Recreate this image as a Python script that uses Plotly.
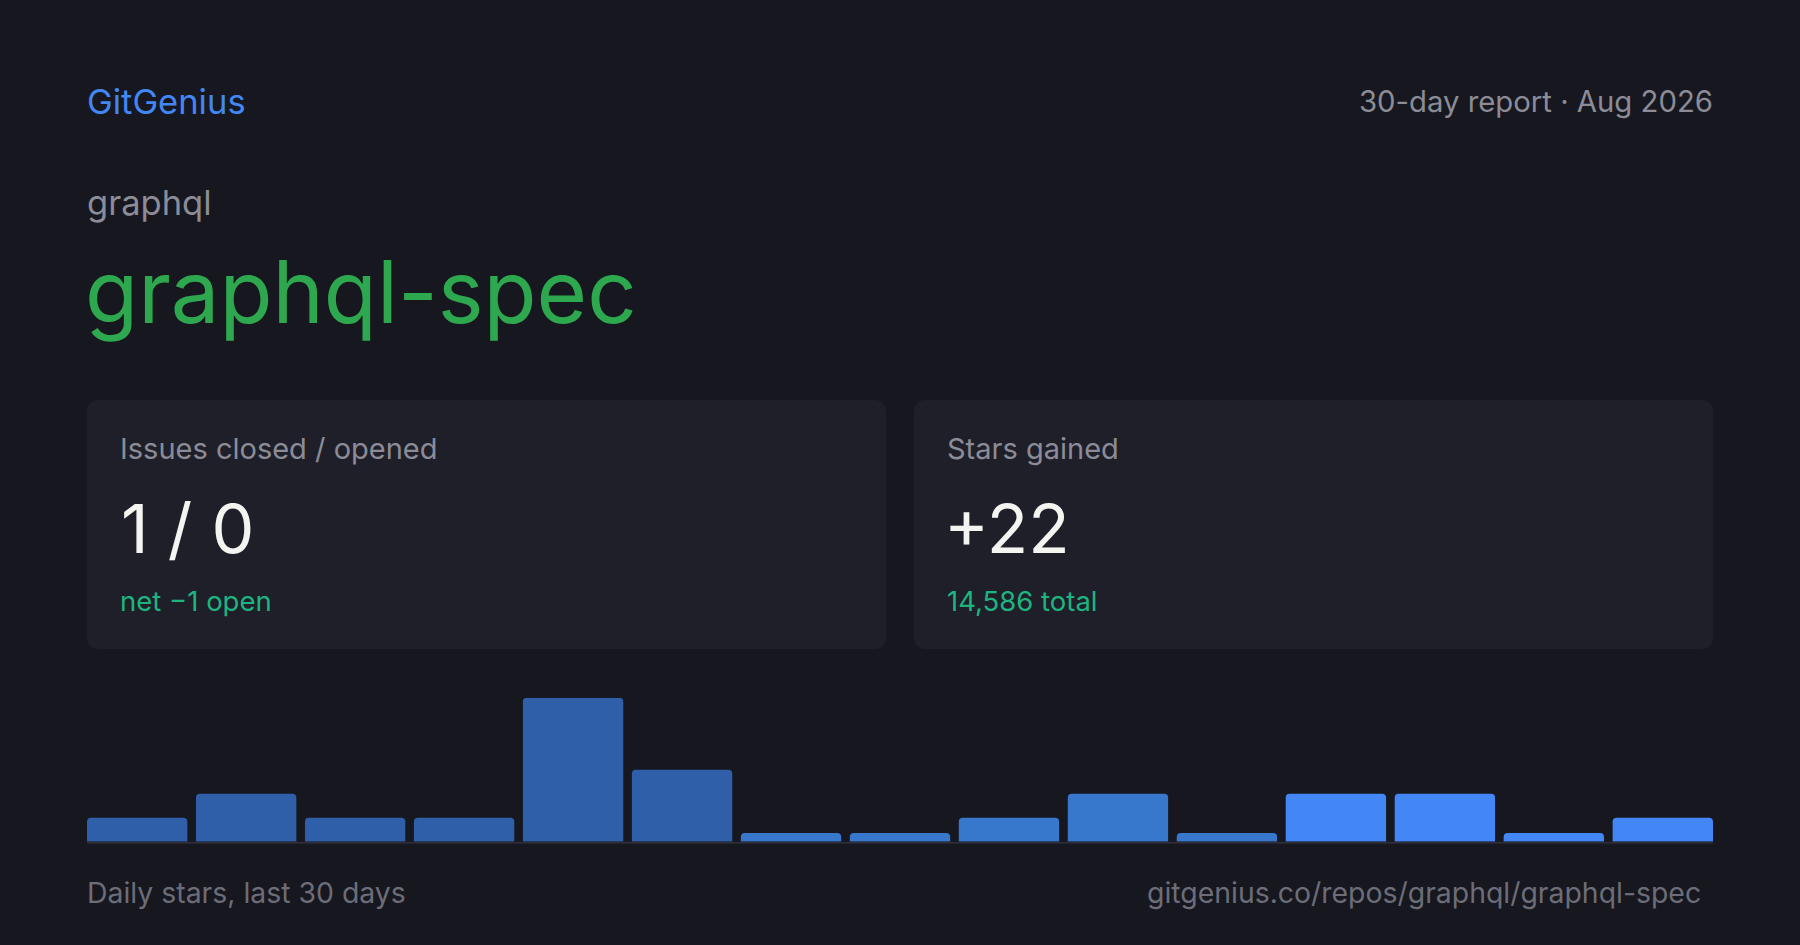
import plotly.graph_objects as go

W, H = 1800, 945

# --- data
brand = "GitGenius"
report_label = "30-day report · Aug 2026"
owner = "graphql"
repo = "graphql-spec"
card_titles = ["Issues closed / opened", "Stars gained"]
card_values = ["1 / 0", "+22"]
card_notes = ["net \u22121 open", "14,586 total"]
stars = [1, 2, 1, 1, 6, 3, 0, 0, 1, 2, 0, 2, 2, 0, 1]
footer_left = "Daily stars, last 30 days"
footer_right = "gitgenius.co/repos/graphql/graphql-spec"

# --- style
BG = "#16171f"
CARD = "#1f1f2a"
GRAY = "#8b8c97"
DIM = "#6c6d78"
BLUE = "#4287f5"
GREEN = "#2ea84f"
TEAL = "#1db47f"
WHITE = "#f4f4f0"
FONT = "Inter"
bar_colors = ["#2f5fa9"] * 6 + ["#3878cc"] * 5 + ["#4287f5"] * 4
STUB = 0.36  # zero days still get a sliver


def px(x):
    return x / W


def py(y):
    return 1 - y / H


fig = go.Figure()

fig.add_trace(go.Bar(
    x=list(range(len(stars))),
    y=[max(v, STUB) for v in stars],
    customdata=stars,
    hovertemplate="%{customdata} stars<extra></extra>",
    marker=dict(color=bar_colors, line=dict(width=0), cornerradius=4),
))


def rounded_rect(x0, y0, x1, y1, r=12):
    rx, ry = r / W, r / H
    a, b, c, d = px(x0), py(y1), px(x1), py(y0)  # left, bottom, right, top in paper
    return (f"M {a + rx},{d} L {c - rx},{d} Q {c},{d} {c},{d - ry} "
            f"L {c},{b + ry} Q {c},{b} {c - rx},{b} L {a + rx},{b} "
            f"Q {a},{b} {a},{b + ry} L {a},{d - ry} Q {a},{d} {a + rx},{d} Z")


shapes = []
card_x = [(87, 886), (914, 1713)]
for x0, x1 in card_x:
    shapes.append(dict(type="path", xref="paper", yref="paper",
                       path=rounded_rect(x0, 400, x1, 649),
                       fillcolor=CARD, line=dict(width=0), layer="below"))

# baseline under the bars
shapes.append(dict(type="line", xref="paper", yref="paper",
                   x0=px(87), x1=px(1713), y0=py(842.7), y1=py(842.7),
                   line=dict(color="#2b2c37", width=2)))


def txt(text, x, y, size, color, anchor="left"):
    return dict(text=text, x=px(x), y=py(y), xref="paper", yref="paper",
                xanchor=anchor, yanchor="middle", showarrow=False,
                font=dict(family=FONT, size=size, color=color))


ann = [
    txt(brand, 85, 101, 34.5, BLUE),
    txt(report_label, 1715, 101, 29.3, GRAY, "right"),
    txt(owner, 85, 203, 34.5, GRAY),
    txt(repo, 83, 292, 86.7, GREEN),
    txt(footer_left, 85, 892, 28.4, DIM),
    txt(footer_right, 1703, 892, 28.4, DIM, "right"),
]
for i, (x0, x1) in enumerate(card_x):
    tx = x0 + 31
    ann.append(txt(card_titles[i], tx, 449, 29, GRAY))
    ann.append(txt(card_values[i], tx + (1 if i == 0 else -3), 528, 68, WHITE))
    ann.append(txt(card_notes[i], tx, 601, 27.5, TEAL))

gap = 8.6
fig.update_layout(
    width=W, height=H,
    margin=dict(l=0, r=0, t=0, b=0),
    paper_bgcolor=BG, plot_bgcolor=BG,
    showlegend=False,
    bargap=0.079,
    shapes=shapes,
    annotations=ann,
    xaxis=dict(domain=[px(87 - gap / 2), px(1713 + gap / 2)], range=[-0.5, len(stars) - 0.5],
               visible=False, fixedrange=True),
    yaxis=dict(domain=[py(841.7), py(697.7)], range=[0, 6], visible=False, fixedrange=True),
)

fig.write_html(
    "out.html",
    config={"displayModeBar": False},
    post_script=f"document.body.style.margin='0';document.body.style.background='{BG}';",
)
